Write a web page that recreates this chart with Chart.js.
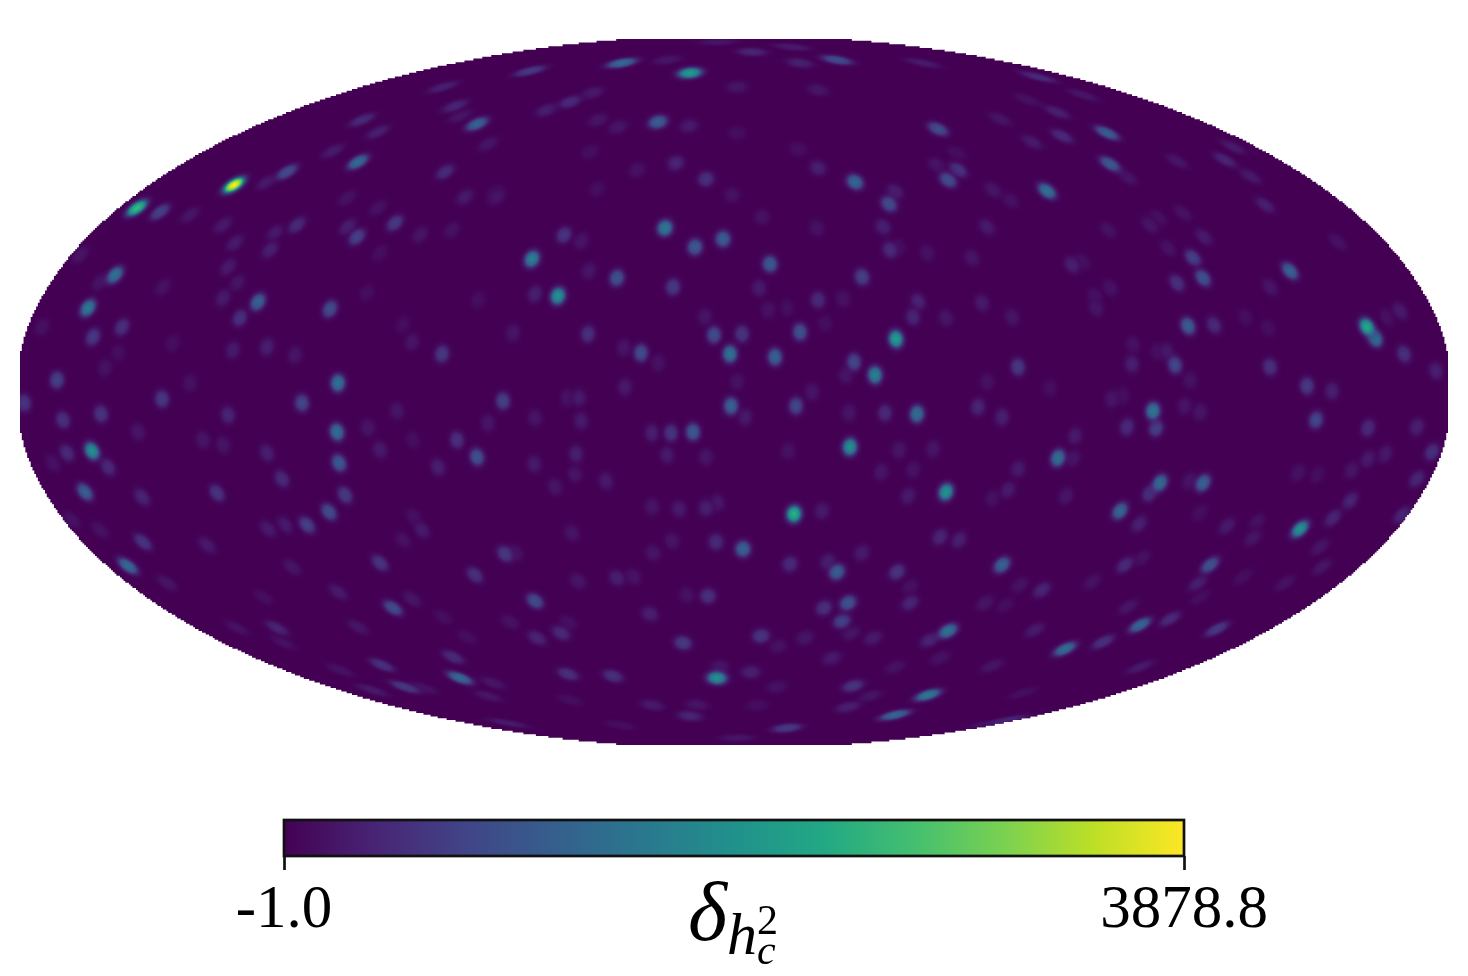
<!DOCTYPE html>
<html>
<head>
<meta charset="utf-8">
<title>delta h_c^2 sky map</title>
<script src="https://cdn.jsdelivr.net/npm/chart.js@4/dist/chart.umd.min.js"></script>
<style>
  html, body { margin: 0; padding: 0; background: #fff; }
  #wrap { position: relative; width: 1468px; height: 976px; overflow: hidden; }
  canvas { position: absolute; left: 0; }
  #map { top: 0; }
  #bar { top: 790px; }
</style>
</head>
<body>
<div id="wrap">
  <canvas id="map" width="1468" height="790"></canvas>
  <canvas id="bar" width="1468" height="186"></canvas>
</div>
<script>
// hot spots (plane coords from map centre, y up), value = delta
const spotX = [
  -500,-597,-574,-447,-467,-376,-401,-372,-356,-257,
  -279,-291,-274,-289,-246,-269,-339,-386,-377,-437,
  -459,-511,-544,-464,-499,-282,-314,-356,-387,-619,
  -634,-654,-646,-476,-494,-511,-404,-506,-497,-571,
  -612,-641,-692,-292,-322,-467,-501,-439,-677,-396,
  -629,-544,-256,-367,-239,-331,-354,-561,-616,
  -44,-112,-204,18,-16,58,103,66,-67,189,
  -164,-187,-142,-76,-136,-116,-45,3,84,204,
  121,84,-58,-28,-97,-237,214,224,203,161,
  155,-2,-69,-11,-39,-170,-153,-202,-117,-145,
  36,-61,-176,-199,25,128,149,156,164,84,
  184,179,109,66,-20,8,-29,-146,-221,-93,
  -110,-4,41,162,141,120,112,-109,-76,3,
  212,238,193,28,83,223,-137,3,64,78,
  34,53,91,-144,
  304,349,323,294,266,373,328,298,376,393,
  313,259,276,499,491,443,516,531,449,424,
  416,374,253,470,459,469,443,434,556,604,
  338,348,376,361,362,248,278,536,633,641,
  666,653,670,702,454,480,441,433,424,398,
  399,284,536,573,598,511,534,253,316,456,
  -710,-572,-432,-671,-633,-506,-596,-397,-337,-366,
  -395,-277,-257,-246,-296,-642,-667,-626,-649,-592,
  -517,-467,-511,-531,-452,-389,-405,-427,-449,-466,
  -354,-259,-312,-320,-331,-341,-322,-396,-354,-606,
  -567,-591,-527,-442,-662,-634,-681,-457,-497,-451,
  -376,-281,-352,-274,-329,-362,-311,-394,-241,-246,
  -291,-267,-471,-321,
  -231,-166,-155,-3,11,62,115,151,183,244,
  -199,-153,-82,-63,-41,-158,-200,-67,-28,116,
  54,165,199,147,179,-159,-128,-179,212,174,
  60,88,-28,-17,-55,-82,206,225,9,-18,
  -162,-62,-229,-219,-81,56,103,94,128,163,
  -117,-101,-156,-26,-47,-199,114,90,108,176,
  176,-84,-173,-197,-51,27,71,139,117,44,
  214,196,-17,17,-14,98,206,-166,-121,119,
  43,161,194,136,161,114,53,-82,-37,-44,
  3,-226,-114,23,-164,-224,-166,
  268,419,422,393,378,388,451,466,582,634,
  683,341,698,651,634,324,339,284,618,564,
  583,683,426,416,469,456,274,259,332,616,
  386,405,493,466,566,599,668,523,519,586,
  268,391,408,476,464,588,308,286,358,509,
  551,251,271,394,406,436,483,301,369,331,
  406,258,289,273,256,466
];
const spotY = [
  207,184,180,220,210,230,241,272,260,268,
  286,305,276,220,248,195,169,165,155,167,
  159,167,177,142,149,162,157,184,194,117,
  110,137,84,90,74,94,83,125,109,105,
  65,55,65,38,50,45,42,37,12,9,
  24,9,92,99,199,67,139,49,39,
  319,329,321,340,350,345,332,329,332,329,
  290,282,299,270,272,265,266,305,302,263,
  210,224,229,213,222,195,212,222,227,200,
  188,197,164,153,145,157,151,133,114,121,
  128,105,96,98,104,115,165,142,145,92,
  90,75,93,60,57,58,75,58,59,39,
  44,38,35,53,17,30,17,5,29,10,
  74,134,139,175,164,239,203,259,243,0,
  82,84,69,240,
  315,297,280,292,273,259,256,250,228,215,
  201,202,192,245,232,231,216,187,179,174,
  167,162,165,155,134,114,109,144,121,150,
  127,130,104,95,84,89,75,105,65,54,
  81,75,38,21,66,67,27,40,40,28,
  47,25,25,6,1,75,64,10,4,12,
  -11,-7,-11,-28,-22,-23,-40,-40,-19,-36,
  -71,-48,-65,-31,-75,-59,-61,-75,-100,-105,
  -101,-61,-53,-48,-87,-103,-120,-133,-133,-137,
  -171,-183,-138,-125,-148,-216,-207,-200,-58,-174,
  -191,-150,-153,-175,-128,-138,-71,-236,-236,-250,
  -235,-265,-273,-286,-295,-298,-296,-278,-291,-304,
  -225,-245,-205,-48,
  -9,-6,-6,-14,-25,-14,-21,-21,-22,-15,
  -26,-29,-41,-41,-40,-62,-72,-63,-65,-55,
  -59,-58,-57,-80,-78,-82,-89,-95,-100,-104,
  -122,-119,-116,-111,-117,-115,-145,-148,-157,-150,
  -141,-149,-162,-161,-161,-172,-180,-170,-161,-180,
  -186,-185,-189,-204,-203,-209,-211,-216,-229,-211,
  -195,-222,-241,-246,-251,-244,-246,-246,-241,-254,
  -239,-248,-286,-280,-275,-266,-266,-282,-284,-294,
  -295,-275,-303,-304,-323,-315,-336,-313,-313,-324,
  -346,-331,-333,-313,-308,-230,-231,
  -25,-19,-36,-35,-7,-4,-14,-20,-28,-36,
  -35,-44,-60,-62,-67,-66,-66,-77,-78,-81,
  -83,-87,-91,-101,-91,-89,-98,-106,-104,-109,
  -119,-132,-134,-121,-137,-126,-123,-130,-146,-155,
  -173,-173,-166,-173,-191,-175,-198,-193,-190,-185,
  -191,-211,-213,-215,-233,-227,-237,-238,-250,-257,
  -275,-274,-301,-328,-331,-205
];
const spotV = [
  3878,2600,740,890,270,1320,270,450,330,1200,
  390,330,220,450,220,270,640,330,740,450,
  270,270,220,330,270,180,220,180,180,1440,
  220,220,1560,1200,520,270,890,270,220,180,
  520,640,180,640,220,330,270,220,740,1440,
  180,180,140,140,180,140,140,140,140,
  2100,1320,640,390,220,270,890,330,220,270,
  450,330,270,1140,220,220,270,220,220,890,
  1260,330,390,520,180,220,890,580,220,330,
  890,180,1560,1140,1080,580,220,1680,970,220,
  1080,640,1950,330,270,740,330,450,180,450,
  390,390,180,970,890,580,220,520,220,890,
  220,1440,1200,2100,1680,810,220,270,180,180,
  220,220,180,180,180,140,140,140,140,220,
  180,140,140,140,
  450,220,330,180,220,1140,450,270,1080,220,
  1440,220,180,270,390,220,270,330,180,180,
  220,180,270,270,740,970,520,180,1200,180,
  330,180,180,220,220,270,220,220,2300,1560,
  270,180,520,330,1140,450,810,270,180,330,
  180,640,520,640,330,140,140,180,140,180,
  580,640,810,520,580,390,220,1380,220,220,
  1080,520,970,220,330,1900,450,450,1140,390,
  580,330,220,220,450,640,890,740,270,270,
  580,520,270,180,180,890,220,270,270,1320,
  220,580,270,220,180,180,180,390,180,180,
  220,450,520,1320,640,270,220,180,220,220,
  140,140,140,140,
  740,220,270,1200,270,810,220,450,1380,390,
  220,270,330,580,1080,330,270,270,220,1900,
  180,220,220,220,180,220,270,220,1950,270,
  2450,270,330,270,270,220,390,330,1200,450,
  220,220,640,220,220,450,1140,330,270,580,
  330,220,220,520,180,890,970,520,740,390,
  180,330,450,390,640,580,220,270,220,180,
  1440,390,1900,330,220,270,180,520,520,580,
  180,180,1560,220,1260,330,640,270,220,390,
  220,270,140,140,140,180,180,
  330,1500,740,450,220,180,220,220,810,450,
  330,270,520,270,270,1380,220,270,220,180,
  140,390,1320,580,1200,220,270,180,220,390,
  1260,330,270,140,1950,390,390,180,220,220,
  1200,450,180,970,330,220,390,180,180,140,
  180,220,140,220,1260,450,640,270,520,1380,
  270,220,140,390,220,140
];

const valueMin = -1.0;
const valueMax = 3878.8;
const tickValues = [-1.0, 3878.8];
const tickLabels = ['-1.0', '3878.8'];
const viridis = ['#440154', '#482475', '#414487', '#355f8d', '#2a788e', '#21918c', '#22a884', '#44bf70', '#7ad151', '#bddf26', '#fde725'];

const MAP_W = 714, MAP_H = 353;   // visible half extents, the axes cut the ellipse a bit
const OUTER_W = 718, OUTER_H = 357;
const CELL = 1.785;               // map pixels are 800x400, the edge shows them
const BEAM = 0.027;               // smoothing width on the sphere, radians
const SHEAR = 0.65;

function hexToRgb(h) {
  return [parseInt(h.slice(1, 3), 16), parseInt(h.slice(3, 5), 16), parseInt(h.slice(5, 7), 16)];
}
const viridisRgb = viridis.map(hexToRgb);

function colourAt(t, alpha) {
  t = Math.min(1, Math.max(0, t)) * (viridisRgb.length - 1);
  const i = Math.min(viridisRgb.length - 2, Math.floor(t));
  const f = t - i;
  const c = viridisRgb[i].map((v, k) => Math.round(v + (viridisRgb[i + 1][k] - v) * f));
  return `rgba(${c[0]},${c[1]},${c[2]},${alpha})`;
}

// spots are round on the sky, so the Mollweide jacobian gives the shape on the map
function spotSprite(X, Y, value) {
  const sinT = Math.max(-0.985, Math.min(0.985, Y / MAP_H));
  const theta = Math.asin(sinT);
  const cosT = Math.cos(theta);
  const lam = Math.max(-Math.PI, Math.min(Math.PI, Math.PI * X / (MAP_W * cosT)));
  const sinP = (2 * theta + Math.sin(2 * theta)) / Math.PI;
  const cosP = Math.sqrt(Math.max(0.0005, 1 - sinP * sinP));
  const dThetaDPhi = Math.PI * cosP / (4 * cosT * cosT);
  const a = (MAP_W / Math.PI) * cosT / cosP * BEAM;
  const b = -(MAP_W / Math.PI) * lam * sinT * dThetaDPhi * BEAM * SHEAR;
  const d = MAP_H * cosT * dThetaDPhi * BEAM;

  const reach = 2.6;
  const half = Math.ceil(reach * Math.max(Math.abs(a) + Math.abs(b), d)) + 1;
  const c = document.createElement('canvas');
  c.width = c.height = half * 2;
  const g = c.getContext('2d');
  g.setTransform(a, 0, b, -d, half, half);
  const grad = g.createRadialGradient(0, 0, 0, 0, 0, reach);
  const stops = 18;
  for (let i = 0; i <= stops; i++) {
    const r = reach * i / stops;
    const fall = Math.exp(-0.5 * Math.pow(r, 2.2));
    const alpha = i === stops ? 0 : Math.min(1, fall / 0.7);
    grad.addColorStop(i / stops, colourAt((value * fall - valueMin) / (valueMax - valueMin), alpha));
  }
  g.fillStyle = grad;
  g.beginPath();
  g.arc(0, 0, reach, 0, Math.PI * 2);
  g.fill();
  return c;
}

// faint spots first so the bright ones stay on top
const order = spotX.map((_, i) => i).sort((p, q) => spotV[p] - spotV[q]);
const spotPoints = order.map(i => ({ x: spotX[i], y: spotY[i] }));
const spotSprites = order.map(i => spotSprite(spotX[i], spotY[i], spotV[i]));

// pixel stepped outline of the projection
function mapOutline(ctx, chart) {
  const sx = chart.scales.x, sy = chart.scales.y;
  const rows = Math.round(2 * MAP_H / CELL);
  const step = 2 * MAP_H / rows;
  const right = [], left = [];
  for (let r = 0; r < rows; r++) {
    const yTop = MAP_H - r * step;
    const yMid = yTop - step / 2;
    const half = OUTER_W * Math.sqrt(Math.max(0, 1 - (yMid * yMid) / (OUTER_H * OUTER_H)));
    const w = Math.min(MAP_W, Math.round(half / CELL) * CELL);
    right.push([w, yTop], [w, yTop - step]);
    left.push([-w, yTop], [-w, yTop - step]);
  }
  ctx.beginPath();
  right.forEach((p, i) => {
    const px = sx.getPixelForValue(p[0]), py = sy.getPixelForValue(p[1]);
    if (i === 0) ctx.moveTo(px, py); else ctx.lineTo(px, py);
  });
  left.reverse().forEach(p => ctx.lineTo(sx.getPixelForValue(p[0]), sy.getPixelForValue(p[1])));
  ctx.closePath();
}

const mapDisc = {
  id: 'mapDisc',
  beforeDatasetsDraw(chart) {
    const ctx = chart.ctx;
    ctx.save();
    mapOutline(ctx, chart);
    ctx.fillStyle = viridis[0];
    ctx.fill();
    ctx.clip();
  },
  afterDatasetsDraw(chart) {
    chart.ctx.restore();
  }
};

new Chart(document.getElementById('map'), {
  type: 'scatter',
  data: {
    datasets: [{
      data: spotPoints,
      pointStyle: spotSprites,
      pointRadius: 6,
      showLine: false
    }]
  },
  options: {
    responsive: false,
    animation: false,
    events: [],
    layout: { padding: { left: 20, right: 20, top: 39, bottom: 45 } },
    plugins: { legend: { display: false }, tooltip: { enabled: false } },
    scales: {
      x: { type: 'linear', min: -MAP_W, max: MAP_W, display: false },
      y: { type: 'linear', min: -MAP_H, max: MAP_H, display: false }
    }
  },
  plugins: [mapDisc]
});

// colour bar
const barFrame = {
  id: 'barFrame',
  afterDatasetsDraw(chart) {
    const { ctx, chartArea: a } = chart;
    ctx.save();
    ctx.strokeStyle = '#111';
    ctx.lineWidth = 2.7;
    ctx.strokeRect(a.left, a.top, a.right - a.left, a.bottom - a.top);
    ctx.restore();
  },
  afterDraw(chart) {
    // axis label, delta with h_c^2 below and above the line
    const { ctx, chartArea: a } = chart;
    const cx = (a.left + a.right) / 2;
    ctx.save();
    ctx.fillStyle = '#000';
    ctx.textBaseline = 'alphabetic';
    ctx.textAlign = 'left';
    ctx.font = 'italic 84px "Liberation Serif"';
    ctx.fillText('δ', cx - 46, a.bottom + 84);
    ctx.font = 'italic 60px "Liberation Serif"';
    ctx.fillText('h', cx - 7, a.bottom + 98);
    ctx.font = '42px "Liberation Serif"';
    ctx.fillText('2', cx + 23, a.bottom + 78);
    ctx.font = 'italic 42px "Liberation Serif"';
    ctx.fillText('c', cx + 23, a.bottom + 108);
    ctx.restore();
  }
};

new Chart(document.getElementById('bar'), {
  type: 'bar',
  data: {
    labels: [''],
    datasets: [{
      data: [[valueMin, valueMax]],
      barPercentage: 1,
      categoryPercentage: 1,
      backgroundColor(c) {
        const area = c.chart.chartArea;
        if (!area) return viridis[0];
        const grad = c.chart.ctx.createLinearGradient(area.left, 0, area.right, 0);
        viridis.forEach((col, i) => grad.addColorStop(i / (viridis.length - 1), col));
        return grad;
      }
    }]
  },
  options: {
    indexAxis: 'y',
    responsive: false,
    animation: false,
    events: [],
    layout: { padding: { left: 284, right: 284, top: 30, bottom: 0 } },
    plugins: { legend: { display: false }, tooltip: { enabled: false } },
    scales: {
      y: { display: false },
      x: {
        type: 'linear',
        min: valueMin,
        max: valueMax,
        afterBuildTicks(s) { s.ticks = tickValues.map(v => ({ value: v })); },
        afterFit(s) { s.height = 120; },
        border: { display: false },
        grid: { drawOnChartArea: false, tickLength: 14, tickWidth: 2.7, tickColor: '#111' },
        ticks: {
          autoSkip: false,
          maxRotation: 0,
          padding: 4,
          color: '#000',
          font: { family: '"Liberation Serif"', size: 61 },
          callback: (v, i) => tickLabels[i]
        }
      }
    }
  },
  plugins: [barFrame]
});
</script>
</body>
</html>
